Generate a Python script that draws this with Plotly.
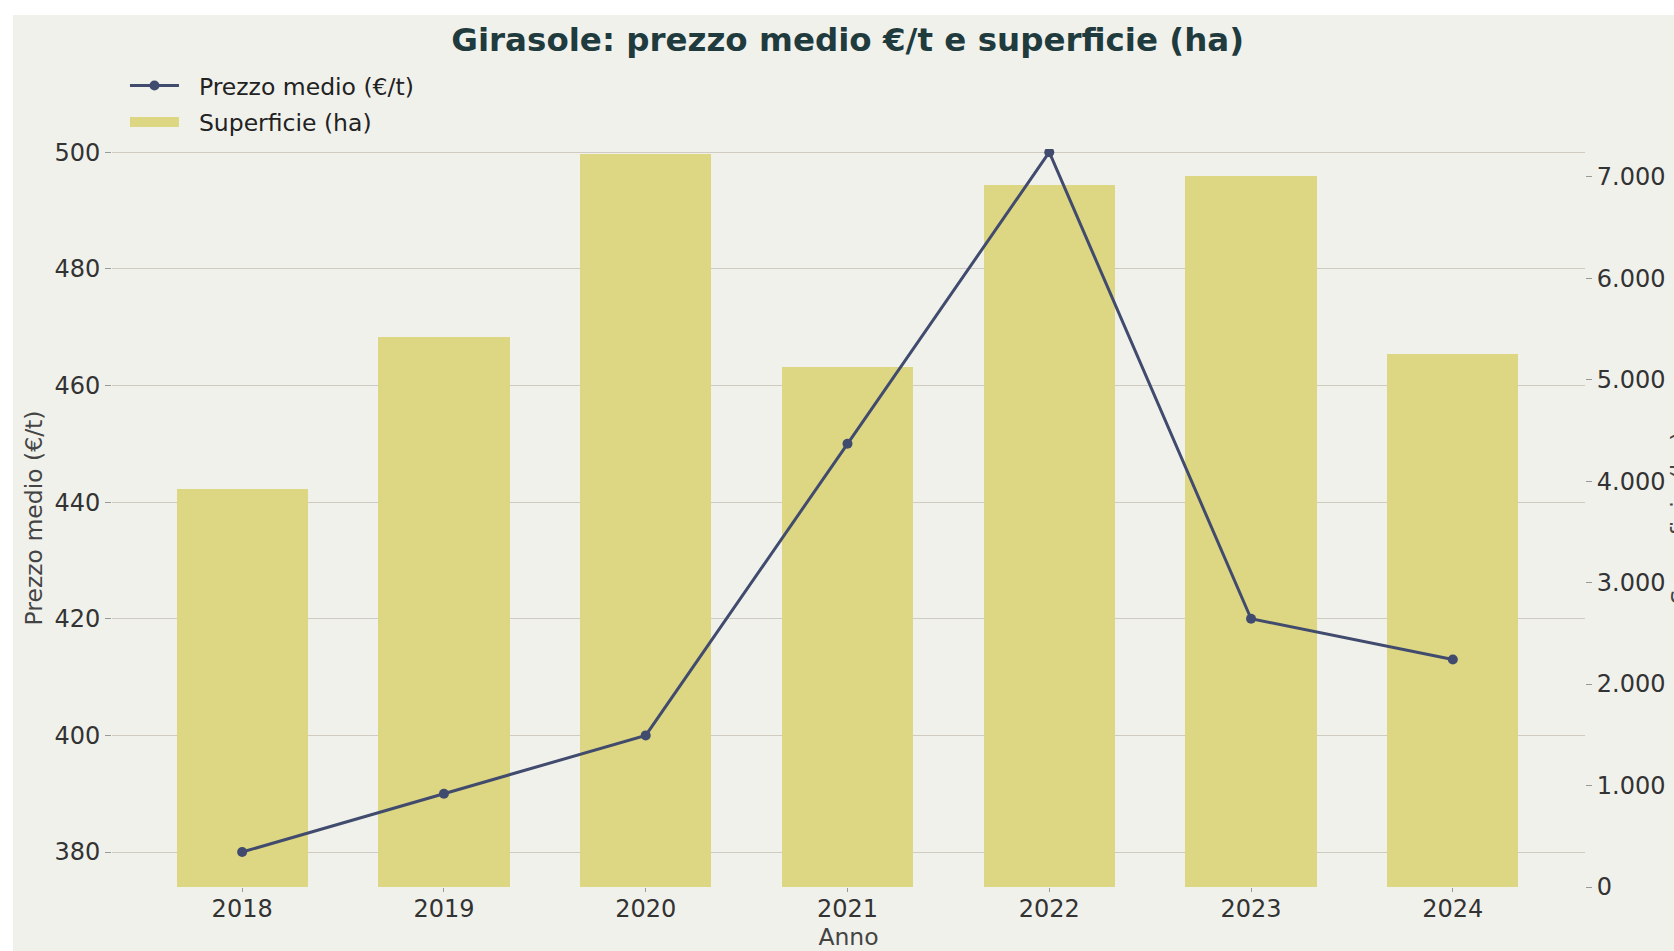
import plotly.graph_objects as go

anni = [2018, 2019, 2020, 2021, 2022, 2023, 2024]
prezzo_medio = [380, 390, 400, 450, 500, 420, 413]
superficie_ha = [3920, 5420, 7220, 5120, 6920, 7010, 5250]

prezzo_ticks = [380, 400, 420, 440, 460, 480, 500]
superficie_ticks = [0, 1000, 2000, 3000, 4000, 5000, 6000, 7000]

BG = "#f1f1ec"
FONT = "DejaVu Sans"
BAR_COLOR = "#ddd682"
LINE_COLOR = "#414b6e"
PAD = "\u00a0\u00a0"

fig = go.Figure()
fig.add_trace(go.Bar(
    x=anni, y=superficie_ha, name="Superficie (ha)", yaxis="y",
    showlegend=False,
    marker=dict(color=BAR_COLOR, line=dict(width=0)), width=0.65,
))
fig.add_trace(go.Scatter(
    x=anni, y=prezzo_medio, name=PAD + "Prezzo medio (€/t)", yaxis="y2",
    legendrank=1, legendgroup="a",
    mode="lines+markers",
    line=dict(color=LINE_COLOR, width=3),
    marker=dict(color=LINE_COLOR, size=10),
))
# legend entry for the bars (wide rectangle swatch)
fig.add_trace(go.Scatter(
    x=[None], y=[None], name=PAD + "Superficie (ha)", yaxis="y",
    legendrank=2, legendgroup="b", mode="lines", hoverinfo="skip",
    line=dict(color=BAR_COLOR, width=18),
))

fig.update_layout(
    width=1700, height=940,
    margin=dict(l=99, r=128, t=134, b=68, autoexpand=False),
    paper_bgcolor=BG, plot_bgcolor=BG,
    separators=",.",
    font=dict(family=FONT, size=24, color="#3a3a3a"),
    title=dict(text="<b>Girasole: prezzo medio €/t e superficie (ha)</b>",
               x=0.491, xanchor="center", y=0.974, yanchor="middle",
               font=dict(family=FONT, size=32.5, color="#1f3b3d")),
    showlegend=True,
    legend=dict(x=0.0088, y=1.1155, xanchor="left", yanchor="top",
                bgcolor="rgba(0,0,0,0)", font=dict(family=FONT, size=23.5, color="#222"),
                traceorder="grouped", tracegroupgap=3, itemwidth=49),
    bargap=0,
    xaxis=dict(
        tickmode="array", tickvals=anni, ticktext=[str(a) for a in anni],
        range=[2017.355, 2024.655], showgrid=False, zeroline=False,
        ticks="outside", ticklen=4, tickcolor="#999", showline=False,
        automargin=False, ticklabelstandoff=-4,
        title=dict(text="Anno", font=dict(size=23.5, color="#444"), standoff=4),
        tickfont=dict(size=24, color="#333"),
    ),
    yaxis=dict(
        side="right", range=[0, 7273], tickvals=superficie_ticks,
        tickformat=",d", showgrid=False, zeroline=False,
        ticks="outside", ticklen=6, tickcolor="#999", automargin=False,
        tickfont=dict(size=24, color="#333"),
        title=dict(text="Superficie (ha)", font=dict(size=23.5, color="#444"), standoff=6),
    ),
    yaxis2=dict(
        overlaying="y", side="left", range=[374.0, 500.55], tickvals=prezzo_ticks,
        showgrid=True, gridcolor="#cfcbc0", gridwidth=1, zeroline=False,
        ticks="outside", ticklen=6, tickcolor="#999", automargin=False,
        tickfont=dict(size=24, color="#333"),
        title=dict(text="Prezzo medio (€/t)", font=dict(size=23.5, color="#444"), standoff=5),
    ),
)

fig.write_html(
    "out.html",
    post_script=(
        "document.body.style.margin='15px 0 0 13px';"
        "document.body.style.overflow='hidden';"
        "document.documentElement.style.overflow='hidden';"
    ),
)
